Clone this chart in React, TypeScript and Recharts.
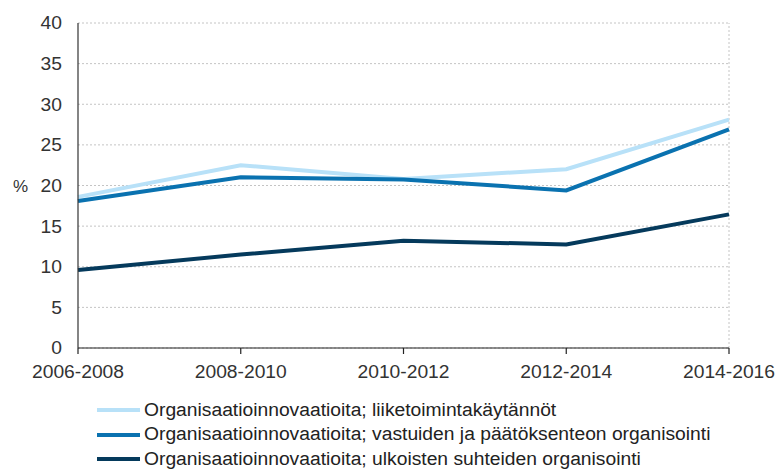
import React from 'react';
import { LineChart, Line, XAxis, YAxis, CartesianGrid, Legend, ReferenceLine } from 'recharts';

const categories = ['2006-2008', '2008-2010', '2010-2012', '2012-2014', '2014-2016'];
const liiketoiminta = [18.6, 22.5, 20.8, 22.0, 28.1];
const vastuut = [18.1, 21.0, 20.75, 19.4, 26.9];
const ulkoiset = [9.6, 11.5, 13.2, 12.75, 16.45];
const yTicks = [0, 5, 10, 15, 20, 25, 30, 35, 40];

const seriesNames = [
  'Organisaatioinnovaatioita; liiketoimintakäytännöt',
  'Organisaatioinnovaatioita; vastuiden ja päätöksenteon organisointi',
  'Organisaatioinnovaatioita; ulkoisten suhteiden organisointi',
];
const seriesKeys = ['s1', 's2', 's3'];
const colors = ['#b8e1f8', '#0a72b0', '#053a5c'];

const data = categories.map((c, i) => ({
  cat: c,
  s1: liiketoiminta[i],
  s2: vastuut[i],
  s3: ulkoiset[i],
}));

const FONT = '"Liberation Sans", Arial, sans-serif';
const SX = 1.07;

const XTick = (props: any) => {
  const { x, y, payload } = props;
  return (
    <g transform={`translate(${x},${y}) scale(${SX},1)`}>
      <text x={0} y={0} dy="0.71em" textAnchor="middle" fill="#333" fontSize={18} fontFamily={FONT}>
        {payload.value}
      </text>
    </g>
  );
};

const YTick = (props: any) => {
  const { x, y, payload } = props;
  return (
    <g transform={`translate(${x},${y}) scale(${SX},1)`}>
      <text x={0} y={0} dy="0.355em" textAnchor="end" fill="#333" fontSize={18} fontFamily={FONT}>
        {payload.value}
      </text>
    </g>
  );
};

const LegendContent = (props: any) => {
  const payload = [...(props.payload || [])].sort(
    (a: any, b: any) => seriesKeys.indexOf(a.dataKey) - seriesKeys.indexOf(b.dataKey)
  );
  return (
    <div style={{ fontFamily: FONT, fontSize: 18, color: '#222' }}>
      {payload.map((p: any, i: number) => (
        <div key={i} style={{ display: 'flex', alignItems: 'center', height: 24.5, whiteSpace: 'nowrap' }}>
          <svg width={43} height={6} style={{ display: 'block' }}>
            <line x1={0} y1={3} x2={43} y2={3} stroke={p.color} strokeWidth={4} />
          </svg>
          <span style={{ marginLeft: 4, display: 'inline-block', transform: `scaleX(${SX})`, transformOrigin: 'left center' }}>
            {p.value}
          </span>
        </div>
      ))}
    </div>
  );
};

export default function App() {
  return (
    <div style={{ position: 'absolute', left: 0, top: 0, width: 778, height: 469, background: '#fff' }}>
      <LineChart width={778} height={469} data={data} margin={{ top: 23, right: 49, left: 0, bottom: 91 }}>
        <CartesianGrid vertical={false} stroke="#c4c4c4" strokeDasharray="2 2" />
        <ReferenceLine x="2014-2016" stroke="#c4c4c4" strokeDasharray="2 2" />
        <XAxis
          dataKey="cat"
          height={30}
          interval={0}
          tick={<XTick />}
          tickSize={6}
          tickMargin={11}
          axisLine={{ stroke: '#222', strokeWidth: 1.2 }}
          tickLine={{ stroke: '#222', strokeWidth: 1.2 }}
        />
        <YAxis
          width={78}
          domain={[0, 40]}
          ticks={yTicks}
          interval={0}
          tick={<YTick />}
          tickLine={false}
          tickSize={6}
          tickMargin={10}
          axisLine={{ stroke: '#333', strokeWidth: 1.2 }}
          label={{ value: '%', position: 'insideLeft', offset: 13, fill: '#333', fontSize: 17, fontFamily: FONT }}
        />
        <Legend
          layout="vertical"
          align="center"
          verticalAlign="middle"
          itemSorter={null as any}
          content={<LegendContent />}
          wrapperStyle={{ position: 'absolute', left: 97, top: 398, width: 680, height: 75 }}
        />
        <Line dataKey="s1" name={seriesNames[0]} stroke={colors[0]} strokeWidth={4} dot={false} activeDot={false} isAnimationActive={false} />
        <Line dataKey="s2" name={seriesNames[1]} stroke={colors[1]} strokeWidth={4} dot={false} activeDot={false} isAnimationActive={false} />
        <Line dataKey="s3" name={seriesNames[2]} stroke={colors[2]} strokeWidth={4} dot={false} activeDot={false} isAnimationActive={false} />
      </LineChart>
    </div>
  );
}
